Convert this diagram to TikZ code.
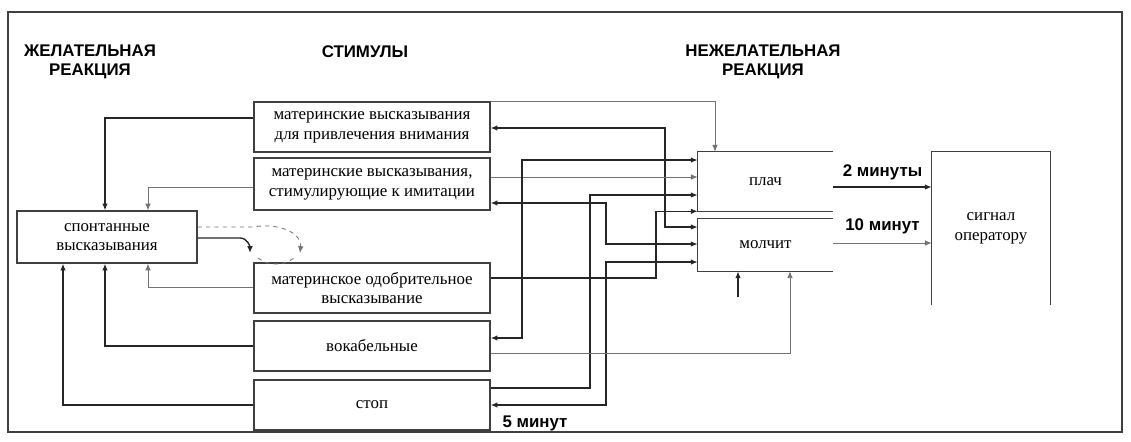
\documentclass[tikz,border=0pt]{standalone}
\usepackage{fontspec}
\setmainfont{Liberation Serif}
\newfontfamily\headfont{Liberation Sans}
\usetikzlibrary{arrows.meta,calc}
\tikzset{
  block/.style={
    draw=black!75,
    line width=0.8pt,
    rectangle,
    minimum width=59mm,
    minimum height=12.5mm,
    align=center,
    font=\fontsize{12}{14}\selectfont
  },
  open/.style={
    rectangle,
    inner sep=0pt,
    align=center,
    font=\fontsize{12}{14}\selectfont
  },
  head/.style={
    align=center,
    text=black,
    font=\headfont\bfseries\fontsize{12}{14}\selectfont
  },
  line/.style={
    -{Latex[length=1.7mm,width=1.4mm]},
    line width=1pt,
    black!85
  },
  thin/.style={
    -{Latex[length=1.7mm,width=1.4mm]},
    line width=0.6pt,
    black!55
  },
  both/.style={
    {Latex[length=1.7mm,width=1.4mm]}-{Latex[length=1.7mm,width=1.4mm]}
  },
  edge/.style={
    line width=0.8pt,
    black!75
  }
}

\begin{document}
\begin{tikzpicture}[x=0.025cm,y=-0.025cm]
\useasboundingbox (0,0) rectangle (1131,441);
\draw[edge] (8,12) rectangle (1122,432);

% headings
\node[head] (hdes) at (90,62) {ЖЕЛАТЕЛЬНАЯ\\РЕАКЦИЯ};
\node[head] (hstim) at (365,52) {СТИМУЛЫ};
\node[head] (hund) at (763,62) {НЕЖЕЛАТЕЛЬНАЯ\\РЕАКЦИЯ};

% stimuli
\node[block] (A) at (372,127) {материнские высказывания\\для привлечения внимания};
\node[block, minimum height=13mm] (B) at (372,184) {материнские высказывания,\\стимулирующие к имитации};
\node[block] (C) at (372,288) {материнское одобрительное\\высказывание};
\node[block] (D) at (372,346) {вокабельные};
\node[block] (E) at (372,405) {стоп};

% desired reaction
\node[block, minimum width=45mm, minimum height=13mm] (spont) at (107,237) {спонтанные\\высказывания};

% undesired reaction
\node[open, minimum width=33.75mm, minimum height=14.75mm] (plach) at (765.5,181.5) {плач};
\node[open, minimum width=33.75mm, minimum height=13mm] (molch) at (765.5,245) {молчит};
\node[open, minimum width=29.5mm, minimum height=38.25mm] (signal) at (991,228.5) {сигнал\\оператору};
\draw[edge] (plach.north east) -- (plach.north west) -- (plach.south west) -- (plach.south east);
\draw[edge] (molch.north east) -- (molch.north west) -- (molch.south west) -- (molch.south east);
\draw[edge] (signal.south west) -- (signal.north west) -- (signal.north east) -- (signal.south east);

% to spontaneous utterances
\draw[line] (A.west |- 0,118) -| (spont.north -| 105,0);
\draw[thin] (B.west |- 0,187) -| (spont.north -| 148,0);
\draw[thin] (C.west |- 0,287) -| (spont.south -| 148,0);
\draw[line] (D.west) -| (spont.south -| 105,0);
\draw[line] (E.west) -| (spont.south -| 63,0);

% loop
\coordinate (lp1) at (250,253);
\coordinate (lp2) at (300,253);
\draw[line] (spont.east |- 0,238) -- (240,238) to[out=0,in=90] (lp1);
\draw[thin, dashed] (spont.east |- 0,227) -- (252,227) .. controls (285,222) and (302,236) .. (lp2);
\draw[black!55, line width=0.6pt, dashed] (258,258) .. controls (268,266) and (284,266) .. (294,258);

% to undesired reaction
\draw[thin] (A.north east) -| (plach.north -| 715,0);
\draw[line, both] (A.east |- 0,128) -- (665,128) |- (molch.west |- 0,227);
\draw[thin] (B.east |- 0,177) -- (plach.west |- 0,177);
\draw[line, both] (B.east |- 0,203) -- (606,203) |- (molch.west |- 0,244);
\draw[line] (E.east |- 0,388) -- (590,388) |- (plach.west |- 0,195);
\draw[line] (C.east |- 0,278) -- (656,278) |- (plach.south west);
\draw[line, both] (D.east |- 0,338) -- (522,338) |- (plach.west |- 0,160);
\draw[line, both] (E.east) -- (606,405) |- (molch.west |- 0,262);
\draw[thin] (D.east |- 0,353) -| (molch.south -| 790,0);
\coordinate (free) at (738,297);
\draw[line] (free) -- (molch.south -| free);

% to operator
\draw[line] (plach.east |- 0,187) -- node[head, above=1pt] {2 минуты} (signal.west |- 0,187);
\draw[thin] (molch.east |- 0,243) -- node[head, above=3pt] {10 минут} (signal.west |- 0,243);
\node[head] (t5) at (535,423) {5 минут};

\end{tikzpicture}
\end{document}
